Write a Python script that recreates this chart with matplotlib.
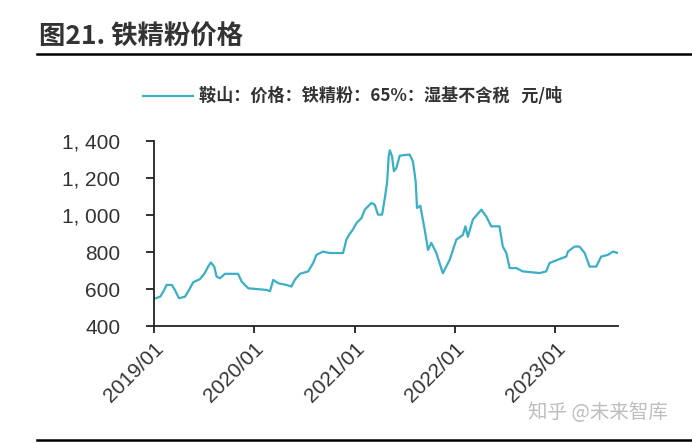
import matplotlib
matplotlib.use("Agg")
import matplotlib.pyplot as plt
import matplotlib.dates as mdates
import matplotlib.ticker as mticker
import pandas as pd

plt.rcParams['font.family'] = ['Noto Sans CJK SC', 'DejaVu Sans']

dates = [
    "2019-01-02", "2019-01-25", "2019-02-05", "2019-02-17", "2019-03-08", "2019-03-19",
    "2019-04-03", "2019-04-25", "2019-05-13", "2019-05-25", "2019-06-18", "2019-07-06",
    "2019-07-18", "2019-07-28", "2019-08-09", "2019-08-18", "2019-08-30", "2019-09-17",
    "2019-11-04", "2019-11-17", "2019-12-11", "2020-02-16", "2020-02-28", "2020-03-11",
    "2020-03-29", "2020-04-28", "2020-05-16", "2020-05-28", "2020-06-16", "2020-07-16",
    "2020-08-03", "2020-08-15", "2020-09-08", "2020-10-03", "2020-11-20", "2020-12-02",
    "2020-12-12", "2020-12-25", "2021-01-08", "2021-01-26", "2021-02-07", "2021-03-03",
    "2021-03-15", "2021-03-27", "2021-04-11", "2021-04-21", "2021-04-29", "2021-05-05",
    "2021-05-09", "2021-05-17", "2021-05-24", "2021-06-02", "2021-06-14", "2021-07-20",
    "2021-08-01", "2021-08-11", "2021-08-16", "2021-08-28", "2021-09-13", "2021-09-25",
    "2021-10-07", "2021-10-25", "2021-11-18", "2021-12-13", "2022-01-06", "2022-01-30",
    "2022-02-08", "2022-02-17", "2022-03-07", "2022-04-07", "2022-04-25", "2022-05-13",
    "2022-06-12", "2022-06-24", "2022-07-07", "2022-07-19", "2022-08-12", "2022-09-05",
    "2022-11-05", "2022-11-29", "2022-12-11", "2023-01-10", "2023-02-10", "2023-02-16",
    "2023-03-12", "2023-03-30", "2023-04-18", "2023-05-06", "2023-05-30", "2023-06-17",
    "2023-07-11", "2023-07-30", "2023-08-16",
]
prices = [
    549, 561, 588, 624, 624, 597,
    552, 561, 606, 639, 655, 688,
    723, 745, 723, 669, 660, 684,
    684, 642, 606, 597, 590, 651,
    633, 624, 615, 651, 684, 697,
    742, 786, 804, 796, 796, 868,
    895, 921, 958, 985, 1030, 1066,
    1057, 1003, 1003, 1093, 1174, 1318,
    1350, 1318, 1237, 1255, 1321, 1327,
    1291, 1183, 1039, 1051, 921, 813,
    851, 797, 687, 760, 868, 894,
    940, 884, 976, 1030, 993, 940,
    940, 831, 796, 715, 715, 697,
    688, 697, 742, 760, 777, 804,
    831, 831, 796, 723, 723, 777,
    786, 804, 796,
]
series_label = "鞍山：价格：铁精粉：65%：湿基不含税   元/吨"
title_text = "图21. 铁精粉价格"
x_ticks = ["2019-01-01", "2020-01-01", "2021-01-01", "2022-01-01", "2023-01-01"]
y_ticks = [400, 600, 800, 1000, 1200, 1400]

x = pd.to_datetime(dates)

fig = plt.figure(figsize=(6.92, 4.43), dpi=100)
ax = fig.add_axes([0.2221, 0.263, 0.6705, 0.4187])

line_color = "#3AAFC6"
ax.plot(x, prices, color=line_color, lw=1.6)

ax.set_xlim(pd.Timestamp("2019-01-01"), pd.Timestamp("2023-08-16"))
ax.set_ylim(400, 1400)
ax.set_yticks(y_ticks)
ax.yaxis.set_major_formatter(mticker.FuncFormatter(
    lambda v, p: f"{int(v):,}".replace(",", ", ")))
ax.set_xticks(pd.to_datetime(x_ticks))
ax.xaxis.set_major_formatter(mdates.DateFormatter("%Y/%m"))

for s in ["top", "right"]:
    ax.spines[s].set_visible(False)
for s in ["left", "bottom"]:
    ax.spines[s].set_color("#222222")
    ax.spines[s].set_linewidth(1.3)

ax.tick_params(axis="y", length=6, width=1.3, color="#222222", pad=18,
               labelsize=15, labelcolor="#333333")
ax.tick_params(axis="x", length=5, width=1.3, color="#222222", pad=4,
               labelsize=15, labelcolor="#333333")
for lab in ax.get_yticklabels():
    lab.set_family(["Liberation Sans", "DejaVu Sans"])
    lab.set_ha("right")
for lab in ax.get_xticklabels():
    lab.set_family(["Liberation Sans", "DejaVu Sans"])
    lab.set_rotation(45)
    lab.set_ha("right")
    lab.set_rotation_mode("anchor")

# legend
fig.lines.append(plt.Line2D([143 / 692, 193 / 692], [1 - 96 / 443, 1 - 96 / 443],
                            transform=fig.transFigure, color=line_color, lw=1.6))
fig.text(199 / 692, 1 - 96 / 443, series_label, fontsize=12.3, fontweight="bold",
         color="#333333", va="center", ha="left")

# title and rules
fig.text(39 / 692, 1 - 37 / 443, title_text, fontsize=19, fontweight="bold",
         color="#333333", va="center", ha="left")
fig.lines.append(plt.Line2D([37 / 692, 1.0], [1 - 54 / 443, 1 - 54 / 443],
                            transform=fig.transFigure, color="black", lw=1.8))
fig.lines.append(plt.Line2D([37 / 692, 1.0], [1 - 440 / 443, 1 - 440 / 443],
                            transform=fig.transFigure, color="black", lw=1.8))

# watermark
fig.text(528 / 692, 1 - 412 / 443, "知乎 @未来智库", fontsize=14, fontweight="light",
         color="#bdbdbd", va="center", ha="left")

fig.savefig("out.png", dpi=100, facecolor="white")
